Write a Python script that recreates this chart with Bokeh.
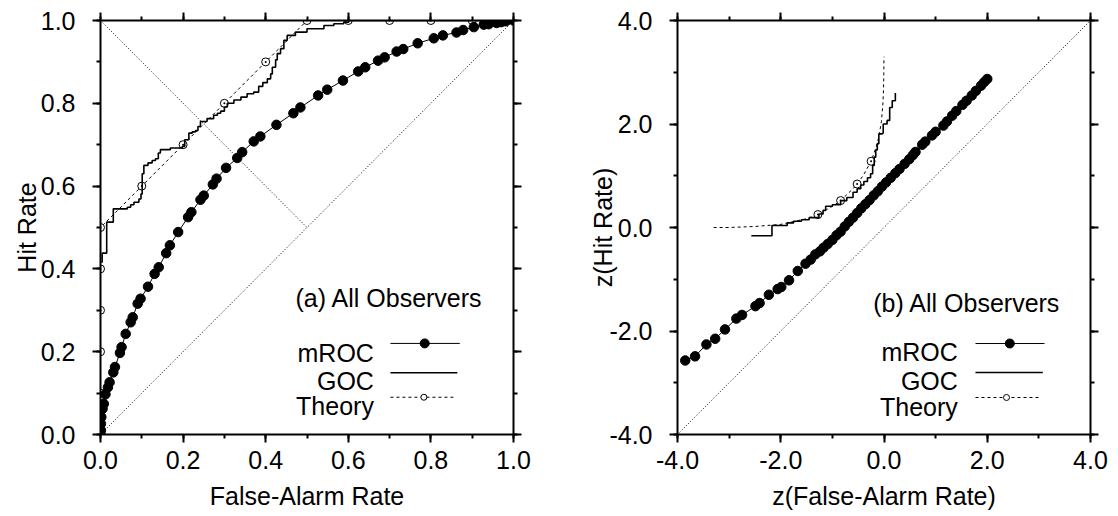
from bokeh.plotting import figure
from bokeh.layouts import row
from bokeh.models import (Range1d, LinearAxis, SingleIntervalTicker,
                          NumeralTickFormatter, CustomJSTickFormatter)
from bokeh.core.properties import value
from bokeh.embed import file_html
from bokeh.resources import INLINE

# ---------------- data: panel (a) ----------------
mroc_fa = [0.000, 0.001, 0.001, 0.002, 0.005, 0.008, 0.012, 0.018, 0.022, 0.031,
           0.035, 0.047, 0.051, 0.061, 0.073, 0.078, 0.090, 0.097, 0.115, 0.131,
           0.141, 0.159, 0.168, 0.188, 0.212, 0.220, 0.242, 0.250, 0.272, 0.281,
           0.304, 0.331, 0.343, 0.371, 0.387, 0.426, 0.467, 0.484, 0.527, 0.549,
           0.587, 0.624, 0.641, 0.672, 0.688, 0.717, 0.733, 0.768, 0.807, 0.829,
           0.862, 0.878, 0.904, 0.928, 0.940, 0.959, 0.970, 0.981, 1.000]
mroc_hr = [0.000, 0.010, 0.026, 0.042, 0.062, 0.074, 0.097, 0.114, 0.126, 0.150,
           0.163, 0.197, 0.211, 0.243, 0.271, 0.283, 0.316, 0.328, 0.357, 0.388,
           0.404, 0.438, 0.457, 0.489, 0.525, 0.537, 0.567, 0.577, 0.604, 0.618,
           0.644, 0.668, 0.682, 0.708, 0.720, 0.748, 0.776, 0.790, 0.819, 0.833,
           0.855, 0.877, 0.887, 0.903, 0.911, 0.925, 0.931, 0.945, 0.957, 0.964,
           0.971, 0.977, 0.984, 0.990, 0.991, 0.994, 0.996, 0.998, 1.000]

goc_fa = [0.002, 0.004, 0.015, 0.031, 0.065, 0.073, 0.081, 0.093, 0.098, 0.101,
          0.105, 0.115, 0.125, 0.133, 0.140, 0.145, 0.169, 0.198, 0.204, 0.214,
          0.222, 0.230, 0.236, 0.242, 0.258, 0.274, 0.283, 0.291, 0.300, 0.307,
          0.323, 0.340, 0.355, 0.371, 0.383, 0.393, 0.404, 0.412, 0.416, 0.424,
          0.428, 0.436, 0.444, 0.452, 0.472, 0.500, 0.541, 0.565, 0.589, 0.601, 1.000]
goc_hr = [0.416, 0.438, 0.513, 0.545, 0.549, 0.555, 0.561, 0.569, 0.581, 0.630,
          0.650, 0.656, 0.662, 0.666, 0.680, 0.688, 0.692, 0.696, 0.712, 0.728,
          0.731, 0.734, 0.744, 0.756, 0.763, 0.771, 0.776, 0.781, 0.791, 0.800,
          0.808, 0.815, 0.823, 0.827, 0.841, 0.850, 0.859, 0.871, 0.887, 0.905,
          0.920, 0.932, 0.952, 0.964, 0.972, 0.980, 0.988, 0.992, 0.996, 1.000, 1.000]

theory_fa = [0.0, 0.0, 0.0, 0.0, 0.0, 0.0, 0.1, 0.2, 0.3, 0.4, 0.5, 0.6, 0.7, 0.8, 0.9, 1.0]
theory_hr = [0.0, 0.1, 0.2, 0.3, 0.4, 0.5, 0.6, 0.7, 0.8, 0.9, 1.0, 1.0, 1.0, 1.0, 1.0, 1.0]

chance_a_x = [0.0, 1.0]
chance_a_y = [0.0, 1.0]
minor_diag_x = [0.0, 0.5]
minor_diag_y = [1.0, 0.5]

# ---------------- data: panel (b) ----------------
zmroc_fa = [-3.85, -3.66, -3.44, -3.27, -3.08, -2.86, -2.75, -2.49, -2.41, -2.23,
            -2.06, -1.99, -1.84, -1.67, -1.52, -1.42, -1.33, -1.24, -1.17, -1.09,
            -1.00, -0.92, -0.84, -0.76, -0.68, -0.60, -0.52, -0.44, -0.36, -0.28,
            -0.20, -0.12, -0.04, 0.04, 0.13, 0.22, 0.30, 0.40, 0.49, 0.56,
            0.61, 0.74, 0.80, 0.93, 1.00, 1.15, 1.22, 1.32, 1.40, 1.52,
            1.60, 1.70, 1.78, 1.88, 1.94, 2.00]
zmroc_hr = [-2.57, -2.49, -2.26, -2.15, -1.97, -1.76, -1.69, -1.52, -1.46, -1.30,
            -1.19, -1.15, -1.02, -0.84, -0.70, -0.62, -0.52, -0.46, -0.39, -0.32,
            -0.24, -0.15, -0.08, 0.02, 0.11, 0.19, 0.28, 0.37, 0.45, 0.53,
            0.62, 0.70, 0.79, 0.87, 0.96, 1.05, 1.13, 1.23, 1.32, 1.40,
            1.46, 1.60, 1.66, 1.78, 1.85, 1.97, 2.05, 2.16, 2.25, 2.37,
            2.45, 2.55, 2.64, 2.74, 2.81, 2.87]

zgoc_fa = [-2.57, -2.17, -1.875, -1.75, -1.60, -1.45, -1.26, -1.18, -1.13, -1.00,
           -0.84, -0.72, -0.60, -0.52, -0.45, -0.39, -0.32, -0.26, -0.22, -0.19,
           -0.16, -0.13, -0.10, -0.03, -0.015, 0.06, 0.11, 0.16, 0.22]
zgoc_hr = [-0.16, 0.04, 0.09, 0.12, 0.15, 0.19, 0.26, 0.33, 0.41, 0.44,
           0.52, 0.58, 0.68, 0.75, 0.82, 0.89, 0.96, 1.04, 1.20, 1.36,
           1.50, 1.62, 1.81, 1.82, 2.00, 2.07, 2.32, 2.45, 2.60]

ztheory_fa = [-3.30, -3.00, -2.50, -2.00, -1.50, -1.28, -1.00, -0.84, -0.60, -0.52,
              -0.40, -0.25, -0.15, -0.10, -0.05, -0.02, -0.01, -0.005, 0.00]
ztheory_hr = [0.00, 0.00, 0.02, 0.06, 0.17, 0.25, 0.41, 0.52, 0.75, 0.84,
              1.01, 1.28, 1.56, 1.75, 2.05, 2.41, 2.65, 2.88, 3.30]
ztheory_mark_fa = [-1.28, -0.84, -0.52, -0.25]
ztheory_mark_hr = [0.25, 0.52, 0.84, 1.28]

chance_b_x = [-4.0, 4.0]
chance_b_y = [-4.0, 4.0]

legend_labels = ["mROC", "GOC", "Theory"]

FONT = "Liberation Sans"
FS = "25px"


def make_fig(rng, interval, xlabel, ylabel, left_border, right_border, ylabel_standoff):
    p = figure(x_range=Range1d(*rng), y_range=Range1d(*rng),
               frame_width=413, frame_height=414,
               min_border_left=left_border, min_border_right=right_border,
               min_border_top=20, min_border_bottom=82,
               x_axis_type=None, y_axis_type=None,
               output_backend="svg", toolbar_location=None)
    p.outline_line_color = None
    p.background_fill_color = "white"
    p.border_fill_color = "white"
    for side in ["below", "left", "above", "right"]:
        ax = LinearAxis(ticker=SingleIntervalTicker(interval=interval, num_minor_ticks=2))
        ax.axis_line_width = 2
        ax.axis_line_color = "black"
        ax.major_tick_in = 0
        ax.major_tick_out = 8
        ax.minor_tick_in = 0
        ax.minor_tick_out = 4
        ax.major_tick_line_width = 2
        ax.minor_tick_line_width = 2
        ax.major_label_text_font = FONT
        ax.major_label_text_font_size = FS
        ax.major_label_text_color = "black"
        ax.axis_label_text_font = FONT
        ax.axis_label_text_font_size = FS
        ax.axis_label_text_font_style = "normal"
        ax.axis_label_text_color = "black"
        if side in ("below", "left"):
            ax.formatter = NumeralTickFormatter(format="0.0")
        else:
            ax.formatter = CustomJSTickFormatter(code="return ''")
            ax.major_label_standoff = 2
        if side == "below":
            ax.axis_label = xlabel
            ax.major_label_standoff = 8
            ax.axis_label_standoff = 10
        if side == "left":
            ax.axis_label = ylabel
            ax.major_label_standoff = 17
            ax.axis_label_standoff = ylabel_standoff
        p.add_layout(ax, side)
    return p


def legend_block(p, title, title_xy, text_right, base_y, line_x0, line_x1, line_y, mark_x):
    p.text(x=[title_xy[0]], y=[title_xy[1]], text=[title],
           text_font=value(FONT), text_font_size=value(FS),
           text_align="left", text_baseline="alphabetic", text_color="black")
    p.text(x=[text_right] * 3, y=base_y, text=legend_labels,
           text_font=value(FONT), text_font_size=value(FS),
           text_align="right", text_baseline="alphabetic", text_color="black")
    # mROC sample
    p.line([line_x0, line_x1[0]], [line_y[0], line_y[0]], line_color="black", line_width=1)
    p.scatter([mark_x[0]], [line_y[0]], size=9, marker="circle",
              fill_color="black", line_color="black")
    # GOC sample
    p.line([line_x0, line_x1[1]], [line_y[1], line_y[1]], line_color="black", line_width=1.5)
    # Theory sample
    p.line([line_x0, line_x1[2]], [line_y[2], line_y[2]], line_color="black",
           line_width=1, line_dash="3 3")
    p.scatter([mark_x[1]], [line_y[2]], size=6, marker="circle",
              fill_color="white", line_color="black", line_width=1)


# ---------------- panel (a) ----------------
pa = make_fig((0, 1), 0.2, "False-Alarm Rate", "Hit Rate", 100, 20, -3)
pa.line(chance_a_x, chance_a_y, line_color="black", line_width=1, line_dash="1 2")
pa.line(minor_diag_x, minor_diag_y, line_color="black", line_width=1, line_dash="1 2")
pa.line(theory_fa, theory_hr, line_color="black", line_width=1, line_dash="3 3")
pa.scatter(theory_fa, theory_hr, size=8, marker="circle_dot", fill_color="white",
           line_color="black", line_width=1)
pa.step(goc_fa, goc_hr, mode="after", line_color="black", line_width=1.6)
pa.line(mroc_fa, mroc_hr, line_color="black", line_width=1)
pa.scatter(mroc_fa, mroc_hr, size=9.5, marker="circle", fill_color="black", line_color="black")
legend_block(pa, "(a) All Observers", (0.472, 0.330), 0.662, [0.198, 0.130, 0.068],
             0.702, [0.870, 0.864, 0.860], [0.220, 0.149, 0.090], [0.785, 0.783])

# ---------------- panel (b) ----------------
pb = make_fig((-4, 4), 2.0, "z(False-Alarm Rate)", "z(Hit Rate)", 144, 28, -11)
pb.line(chance_b_x, chance_b_y, line_color="black", line_width=1, line_dash="1 2")
pb.line(ztheory_fa, ztheory_hr, line_color="black", line_width=1, line_dash="3 3")
pb.scatter(ztheory_mark_fa, ztheory_mark_hr, size=8, marker="circle_dot", fill_color="white",
           line_color="black", line_width=1)
pb.step(zgoc_fa, zgoc_hr, mode="after", line_color="black", line_width=1.6)
pb.line(zmroc_fa, zmroc_hr, line_color="black", line_width=1)
pb.scatter(zmroc_fa, zmroc_hr, size=9.5, marker="circle", fill_color="black", line_color="black")
legend_block(pb, "(b) All Observers", (-0.209, -1.463), 1.430, [-2.415, -2.957, -3.459],
             1.772, [3.109, 3.076, 3.031], [-2.242, -2.802, -3.285], [2.437, 2.373])

layout = row(pa, pb)
open("out.html", "w").write(file_html(layout, INLINE))
